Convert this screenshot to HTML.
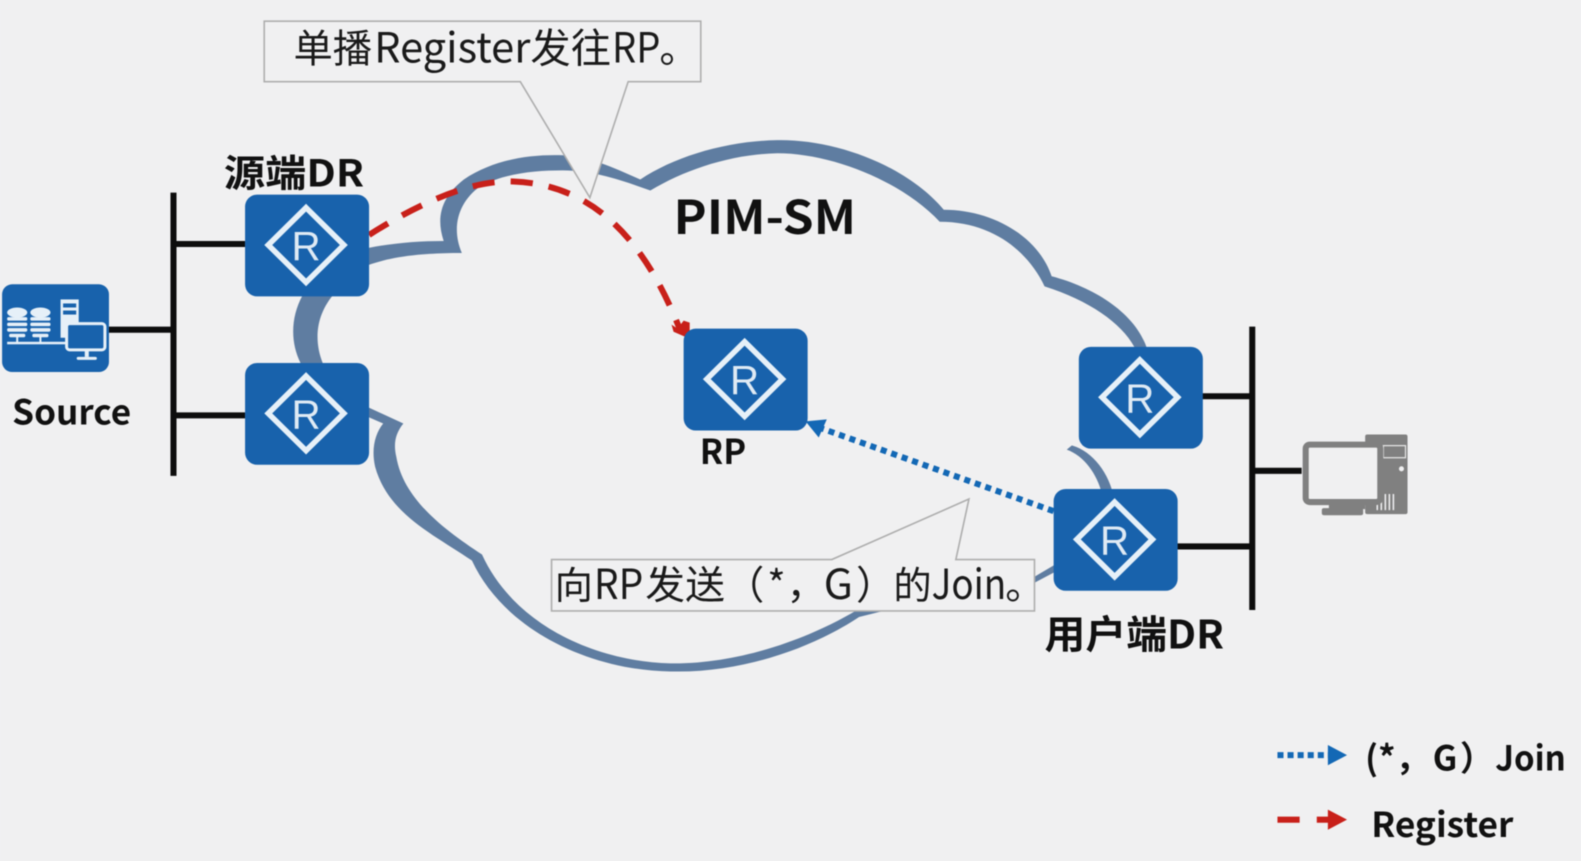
<!DOCTYPE html>
<html lang="zh">
<head>
<meta charset="utf-8">
<title>PIM-SM</title>
<style>
html,body{margin:0;padding:0;background:#f0f0f1;width:1581px;height:861px;overflow:hidden}
svg{display:block;filter:blur(0.4px)}
text{font-family:"Noto Sans CJK SC","Liberation Sans",sans-serif}
.b{font-weight:700;fill:#111}
.r{font-family:"Liberation Sans",sans-serif;font-size:40px;fill:#dfeaf4}
.t{fill:#1a1a1a}
</style>
</head>
<body>
<svg width="1581" height="861" viewBox="0 0 1568 854" xmlns="http://www.w3.org/2000/svg">
<defs>
<g id="rt">
<rect x="0" y="0" width="123" height="101" rx="12" fill="#1862ac"/>
<path d="M60.500 13 L98 50 L60.500 87 L23 50 Z" fill="none" stroke="#e6f0f8" stroke-width="5.500"/>
<text class="r" x="46" y="65">R</text>
</g>
</defs>
<rect width="1568" height="854" fill="#f0f0f1"/>

<!-- cloud -->
<path fill="#5f7da1" d="M345,250 L365,246 C390,241 415,239 440,239 C432,215 438,195 460,178 C490,158 525,153 558,154 C585,155 610,167 635,178 C670,155 720,140 771,139 C830,138 900,165 936,208 C985,208 1030,235 1043,274 C1085,285 1125,310 1137,344 L1130,400 L1060,441 C1080,445 1098,465 1104,490 L1060,560 L1026,578 L900,600 L852,612 C810,640 740,668 665,666 C585,665 500,625 468,556 C430,530 385,510 372,463 C368,445 372,430 380,420 L366,414 L340,400 L298,360 C288,340 288,315 300,293 Z"/>
<path fill="#f0f0f1" d="M340,272 L365,263 C385,256 410,251 458,251 C447,225 455,200 476,185 C500,172 530,169 558,169 C590,169 620,180 645,189 C680,168 725,153 771,152 C825,152 895,180 932,220 C985,220 1020,250 1036,284 C1080,298 1112,320 1125,344 L1110,400 L1075,432 L1058,446 C1075,452 1088,470 1093,490 L1060,552 L1026,572 L900,592 L850,605 C805,632 735,659 665,658 C590,656 510,620 478,550 C440,525 400,495 393,453 C390,440 392,430 400,420 L365,404 L320,360 C312,340 312,315 330,293 Z"/>

<!-- buses -->
<g stroke="#0d0d0d" stroke-width="6" fill="none">
<path d="M172 191V472M172 242H243M172 412H243M108 327H172"/>
<path d="M1242 324V605M1192 393H1242M1242 467H1291M1167 542H1242"/>
</g>

<!-- register arrow -->
<path d="M366 233 C410 205 465 178 509 180 C590 183 640 240 674 326" fill="none" stroke="#c8201a" stroke-width="6" stroke-dasharray="22 16"/>
<path d="M666 322 L672 326 L678 318 L684 320 L684 336 L668 329 Z" fill="#c8201a"/>

<!-- join arrow -->
<path d="M1045 507 L815 425" fill="none" stroke="#1368b5" stroke-width="6" stroke-dasharray="6 5"/>
<path d="M799 418 L820 416 L812 434 Z" fill="#1368b5"/>

<!-- callouts -->
<path d="M262 21H695V81H623L585 196L516 81H262Z" fill="#f0f0f1" stroke="#aeaeae" stroke-width="1.6"/>
<text class="t" x="291" y="62" font-size="39" textLength="78" lengthAdjust="spacingAndGlyphs">单播</text>
<text class="t" x="371" y="62" font-size="41" textLength="155" lengthAdjust="spacingAndGlyphs">Register</text>
<text class="t" x="526" y="62" font-size="40" textLength="80" lengthAdjust="spacingAndGlyphs">发往</text>
<text class="t" x="607" y="62" font-size="41" textLength="48" lengthAdjust="spacingAndGlyphs">RP</text>
<text class="t" x="654" y="62" font-size="39">。</text>

<path d="M547 555H825L961 495L948 555H1026V606H547Z" fill="#f0f0f1" stroke="#aeaeae" stroke-width="1.6"/>
<text class="t" x="550" y="594" font-size="38">向</text>
<text class="t" x="589" y="594" font-size="41" textLength="49" lengthAdjust="spacingAndGlyphs">RP</text>
<text class="t" x="640" y="594" font-size="39" textLength="79" lengthAdjust="spacingAndGlyphs">发送</text>
<text class="t" x="719" y="594" font-size="39">（</text>
<text class="t" x="761" y="594" font-size="39">*</text>
<text class="t" x="780" y="594" font-size="39">，</text>
<text class="t" x="817" y="594" font-size="41" textLength="29" lengthAdjust="spacingAndGlyphs">G</text>
<text class="t" x="849" y="594" font-size="39">）</text>
<text class="t" x="886" y="594" font-size="38">的</text>
<text class="t" x="924" y="594" font-size="41" textLength="74" lengthAdjust="spacingAndGlyphs">Join</text>
<text class="t" x="997" y="594" font-size="39">。</text>

<!-- routers -->
<use href="#rt" x="243" y="193"/>
<use href="#rt" x="243" y="360"/>
<use href="#rt" x="678" y="326"/>
<use href="#rt" x="1070" y="344"/>
<use href="#rt" x="1045" y="485"/>

<!-- source icon -->
<rect x="2" y="282" width="106" height="87" rx="10" fill="#1862ac"/>
<g fill="#e6f0f8">
<ellipse cx="17" cy="310" rx="10" ry="5"/><rect x="7" y="314.500" width="20" height="3.500" rx="1.500"/><rect x="7" y="320" width="20" height="3.500" rx="1.500"/><rect x="7" y="325.500" width="20" height="3.500" rx="1.500"/><rect x="9" y="331" width="16" height="3.500" rx="1.500"/>
<ellipse cx="40" cy="310" rx="10" ry="5"/><rect x="30" y="314.500" width="20" height="3.500" rx="1.500"/><rect x="30" y="320" width="20" height="3.500" rx="1.500"/><rect x="30" y="325.500" width="20" height="3.500" rx="1.500"/><rect x="32" y="331" width="16" height="3.500" rx="1.500"/>
<rect x="16" y="334" width="2" height="6"/><rect x="39" y="334" width="2" height="6"/>
<rect x="7" y="339" width="60" height="2.500"/>
<rect x="60" y="297" width="18" height="38"/>
</g>
<rect x="62.500" y="301" width="13" height="4" fill="#1862ac"/><rect x="62.500" y="308" width="13" height="4" fill="#1862ac"/>
<rect x="66" y="321" width="38" height="26" rx="3" fill="#1862ac" stroke="#e6f0f8" stroke-width="3"/>
<rect x="84" y="348" width="4" height="6" fill="#e6f0f8"/><rect x="76" y="354" width="20" height="3" rx="1.500" fill="#e6f0f8"/>

<!-- PC icon -->
<rect x="1354" y="431" width="42" height="79" rx="2" fill="#808080"/>
<rect x="1372" y="442" width="22" height="12" fill="#808080" stroke="#e8e8e8" stroke-width="1.200"/>
<circle cx="1390" cy="465" r="2.500" fill="#f0f0f1"/>
<path d="M1366 492V506M1370 490V506M1374 490V506M1378 490V506M1382 490V506" stroke="#f0f0f1" stroke-width="1.500"/>
<rect x="1295" y="441" width="74" height="57" rx="4" fill="#f0f0f1" stroke="#808080" stroke-width="6"/>
<rect x="1318" y="498" width="36" height="7" fill="#808080"/>
<rect x="1311" y="504" width="41" height="7" rx="2" fill="#808080"/>

<!-- labels -->
<text class="b" x="222" y="185" font-size="37" textLength="139" lengthAdjust="spacingAndGlyphs">源端DR</text>
<text class="b" x="668" y="232" font-size="46" textLength="181" lengthAdjust="spacingAndGlyphs">PIM-SM</text>
<text class="b" x="694" y="460" font-size="34" textLength="46" lengthAdjust="spacingAndGlyphs">RP</text>
<text class="b" x="12" y="421" font-size="34" textLength="118" lengthAdjust="spacingAndGlyphs">Source</text>
<text class="b" x="1036" y="643" font-size="39" textLength="178" lengthAdjust="spacingAndGlyphs">用户端DR</text>

<!-- legend -->
<path d="M1267 749H1320" stroke="#1368b5" stroke-width="6" stroke-dasharray="6 4" fill="none"/>
<path d="M1317 739L1336 749L1317 759Z" fill="#1368b5"/>
<text class="b" x="1354" y="764" font-size="34">(*，</text>
<text class="b" x="1421" y="764" font-size="34">G</text>
<text class="b" x="1448" y="764" font-size="34">）</text>
<text class="b" x="1483" y="764" font-size="34" textLength="70" lengthAdjust="spacingAndGlyphs">Join</text>

<path d="M1267 813H1289M1306 813H1320" stroke="#c8201a" stroke-width="6" fill="none"/>
<path d="M1317 803L1336 813L1317 823Z" fill="#c8201a"/>
<text class="b" x="1360" y="830" font-size="34" textLength="141" lengthAdjust="spacingAndGlyphs">Register</text>
</svg>
</body>
</html>
